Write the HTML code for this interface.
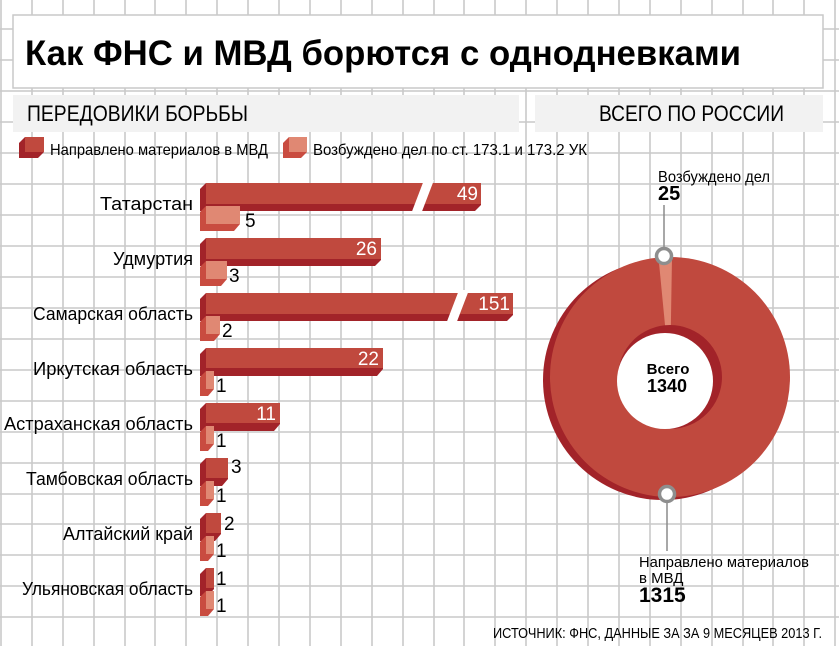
<!DOCTYPE html>
<html><head><meta charset="utf-8"><style>
html,body{margin:0;padding:0;background:#fff}
svg{display:block}
text{font-family:"Liberation Sans",sans-serif}
</style></head><body>
<svg width="839" height="646" viewBox="0 0 839 646" xmlns="http://www.w3.org/2000/svg">
<rect width="839" height="646" fill="#fff"/>
<g stroke="#c9c9c9" stroke-width="1.6">
<line x1="1" y1="0" x2="1" y2="646"/><line x1="32" y1="0" x2="32" y2="646"/><line x1="63" y1="0" x2="63" y2="646"/><line x1="94" y1="0" x2="94" y2="646"/><line x1="125" y1="0" x2="125" y2="646"/><line x1="155" y1="0" x2="155" y2="646"/><line x1="186" y1="0" x2="186" y2="646"/><line x1="217" y1="0" x2="217" y2="646"/><line x1="248" y1="0" x2="248" y2="646"/><line x1="279" y1="0" x2="279" y2="646"/><line x1="310" y1="0" x2="310" y2="646"/><line x1="341" y1="0" x2="341" y2="646"/><line x1="372" y1="0" x2="372" y2="646"/><line x1="403" y1="0" x2="403" y2="646"/><line x1="434" y1="0" x2="434" y2="646"/><line x1="464" y1="0" x2="464" y2="646"/><line x1="495" y1="0" x2="495" y2="646"/><line x1="526" y1="0" x2="526" y2="646"/><line x1="557" y1="0" x2="557" y2="646"/><line x1="588" y1="0" x2="588" y2="646"/><line x1="619" y1="0" x2="619" y2="646"/><line x1="650" y1="0" x2="650" y2="646"/><line x1="681" y1="0" x2="681" y2="646"/><line x1="712" y1="0" x2="712" y2="646"/><line x1="743" y1="0" x2="743" y2="646"/><line x1="773" y1="0" x2="773" y2="646"/><line x1="804" y1="0" x2="804" y2="646"/><line x1="835" y1="0" x2="835" y2="646"/>
<line x1="0" y1="-2" x2="839" y2="-2"/><line x1="0" y1="29" x2="839" y2="29"/><line x1="0" y1="60" x2="839" y2="60"/><line x1="0" y1="91" x2="839" y2="91"/><line x1="0" y1="122" x2="839" y2="122"/><line x1="0" y1="153" x2="839" y2="153"/><line x1="0" y1="184" x2="839" y2="184"/><line x1="0" y1="215" x2="839" y2="215"/><line x1="0" y1="246" x2="839" y2="246"/><line x1="0" y1="277" x2="839" y2="277"/><line x1="0" y1="308" x2="839" y2="308"/><line x1="0" y1="339" x2="839" y2="339"/><line x1="0" y1="370" x2="839" y2="370"/><line x1="0" y1="401" x2="839" y2="401"/><line x1="0" y1="432" x2="839" y2="432"/><line x1="0" y1="463" x2="839" y2="463"/><line x1="0" y1="494" x2="839" y2="494"/><line x1="0" y1="524" x2="839" y2="524"/><line x1="0" y1="555" x2="839" y2="555"/><line x1="0" y1="586" x2="839" y2="586"/><line x1="0" y1="617" x2="839" y2="617"/>
</g>
<rect x="13" y="15" width="810" height="73" fill="#fff" stroke="#c9c9c9" stroke-width="1.5"/>
<text x="25" y="65" font-size="35" font-weight="bold" textLength="716" lengthAdjust="spacingAndGlyphs">Как ФНС и МВД борются с однодневками</text>
<rect x="13" y="95" width="506" height="37" fill="#f2f2f2"/>
<rect x="535" y="95" width="288" height="37" fill="#f2f2f2"/>
<text x="27" y="121" font-size="22" textLength="221" lengthAdjust="spacingAndGlyphs">ПЕРЕДОВИКИ БОРЬБЫ</text>
<text x="599" y="121" font-size="22" textLength="185" lengthAdjust="spacingAndGlyphs">ВСЕГО ПО РОССИИ</text>
<!-- legend -->
<polygon points="19,143 25,137 44,137 44,152 38,158 19,158" fill="#a22329"/>
<rect x="25" y="137" width="19" height="15" fill="#c0493e"/>
<text x="50" y="155" font-size="16" textLength="218" lengthAdjust="spacingAndGlyphs">Направлено материалов в МВД</text>
<polygon points="283,143 289,137 307,137 307,152 301,158 283,158" fill="#c94c40"/>
<rect x="289" y="137" width="18" height="15" fill="#e08873"/>
<text x="313" y="155" font-size="16" textLength="274" lengthAdjust="spacingAndGlyphs">Возбуждено дел по ст. 173.1 и 173.2 УК</text>
<!-- region labels -->
<g font-size="18" text-anchor="end">
<text x="193" y="210" textLength="93" lengthAdjust="spacingAndGlyphs">Татарстан</text>
<text x="193" y="265" textLength="80" lengthAdjust="spacingAndGlyphs">Удмуртия</text>
<text x="193" y="320" textLength="160" lengthAdjust="spacingAndGlyphs">Самарская область</text>
<text x="193" y="375" textLength="160" lengthAdjust="spacingAndGlyphs">Иркутская область</text>
<text x="193" y="430" textLength="189" lengthAdjust="spacingAndGlyphs">Астраханская область</text>
<text x="193" y="485" textLength="167" lengthAdjust="spacingAndGlyphs">Тамбовская область</text>
<text x="193" y="540" textLength="130" lengthAdjust="spacingAndGlyphs">Алтайский край</text>
<text x="193" y="595" textLength="171" lengthAdjust="spacingAndGlyphs">Ульяновская область</text>
</g>
<!-- main bars -->
<g>
<polygon points="200,189 206,183 481,183 481,205 475,211 200,211" fill="#a22329"/><rect x="206" y="183" width="275" height="21" fill="#c0493e"/>
<polygon points="424,180 434,180 421,214 411,214" fill="#fff"/>
<polygon points="200,244 206,238 381,238 381,260 375,266 200,266" fill="#a22329"/><rect x="206" y="238" width="175" height="21" fill="#c0493e"/>
<polygon points="200,299 206,293 513,293 513,315 507,321 200,321" fill="#a22329"/><rect x="206" y="293" width="307" height="21" fill="#c0493e"/>
<polygon points="459,290 469,290 456,324 446,324" fill="#fff"/>
<polygon points="200,354 206,348 383,348 383,369 377,376 200,376" fill="#a22329"/><rect x="206" y="348" width="177" height="20" fill="#c0493e"/>
<polygon points="200,409 206,403 280,403 280,424 274,431 200,431" fill="#a22329"/><rect x="206" y="403" width="74" height="20" fill="#c0493e"/>
<polygon points="200,464 206,458 228,458 228,479 222,486 200,486" fill="#a22329"/><rect x="206" y="458" width="22" height="20" fill="#c0493e"/>
<polygon points="200,519 206,513 221,513 221,534 215,541 200,541" fill="#a22329"/><rect x="206" y="513" width="15" height="20" fill="#c0493e"/>
<polygon points="200,574 206,568 214,568 214,589 208,596 200,596" fill="#a22329"/><rect x="206" y="568" width="8" height="20" fill="#c0493e"/>
</g>
<!-- light bars -->
<g>
<polygon points="200,212 206,206 240,206 240,224 234,231 200,231" fill="#c94c40"/><rect x="206" y="206" width="34" height="18" fill="#e08873"/>
<polygon points="200,267 206,261 227,261 227,279 221,286 200,286" fill="#c94c40"/><rect x="206" y="261" width="21" height="18" fill="#e08873"/>
<polygon points="200,322 206,316 220,316 220,334 214,341 200,341" fill="#c94c40"/><rect x="206" y="316" width="14" height="18" fill="#e08873"/>
<polygon points="200,377 206,371 214,371 214,389 208,396 200,396" fill="#c94c40"/><rect x="206" y="371" width="8" height="18" fill="#e08873"/>
<polygon points="200,432 206,426 214,426 214,444 208,451 200,451" fill="#c94c40"/><rect x="206" y="426" width="8" height="18" fill="#e08873"/>
<polygon points="200,487 206,481 214,481 214,499 208,506 200,506" fill="#c94c40"/><rect x="206" y="481" width="8" height="18" fill="#e08873"/>
<polygon points="200,542 206,536 214,536 214,554 208,561 200,561" fill="#c94c40"/><rect x="206" y="536" width="8" height="18" fill="#e08873"/>
<polygon points="200,597 206,591 214,591 214,609 208,616 200,616" fill="#c94c40"/><rect x="206" y="591" width="8" height="18" fill="#e08873"/>
</g>
<g font-size="19" fill="#fff" text-anchor="end">
<text x="478" y="200">49</text>
<text x="377" y="255">26</text>
<text x="510" y="310">151</text>
<text x="379" y="365">22</text>
<text x="276" y="420">11</text>
</g>
<g font-size="19" fill="#000">
<text x="231" y="473">3</text>
<text x="224" y="530">2</text>
<text x="216" y="585">1</text>
<text x="245" y="227">5</text>
<text x="229" y="282">3</text>
<text x="222" y="337">2</text>
<text x="216" y="392">1</text>
<text x="216" y="447">1</text>
<text x="216" y="502">1</text>
<text x="216" y="557">1</text>
<text x="216" y="612">1</text>
</g>
<!-- donut -->
<circle cx="663" cy="380" r="120" fill="#a22329"/>
<circle cx="670" cy="377" r="120" fill="#c0493e"/>
<path d="M670,377 L658.5,257.5 A120,120 0 0 1 672,257 Z" fill="#e08873"/>
<circle cx="670" cy="377" r="52" fill="#a22329"/>
<circle cx="670" cy="377" r="49" fill="#a22329"/>
<circle cx="665" cy="381" r="48" fill="#fff"/>
<line x1="664" y1="205" x2="664" y2="249" stroke="#8a8a8a" stroke-width="1.5"/>
<circle cx="664" cy="256" r="7.5" fill="#fff" stroke="#8e8e8e" stroke-width="3.5"/>
<line x1="667" y1="501" x2="667" y2="551" stroke="#8a8a8a" stroke-width="1.5"/>
<circle cx="667" cy="494" r="7.5" fill="#fff" stroke="#8e8e8e" stroke-width="3.5"/>
<text x="658" y="182" font-size="16" textLength="112" lengthAdjust="spacingAndGlyphs">Возбуждено дел</text>
<text x="658" y="200" font-size="20" font-weight="bold">25</text>
<text x="668" y="374" font-size="15" font-weight="bold" text-anchor="middle">Всего</text>
<text x="667" y="392" font-size="18" font-weight="bold" text-anchor="middle">1340</text>
<text x="639" y="567" font-size="15" textLength="170" lengthAdjust="spacingAndGlyphs">Направлено материалов</text>
<text x="639" y="583" font-size="15">в МВД</text>
<text x="639" y="602" font-size="21" font-weight="bold">1315</text>
<text x="493" y="638" font-size="15" textLength="329" lengthAdjust="spacingAndGlyphs">ИСТОЧНИК: ФНС, ДАННЫЕ ЗА ЗА 9 МЕСЯЦЕВ 2013 Г.</text>
</svg>
</body></html>
